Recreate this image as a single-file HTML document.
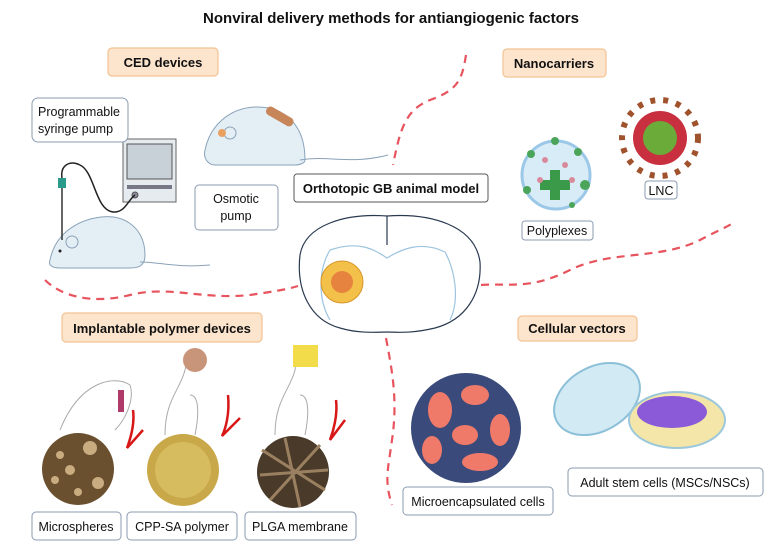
<!DOCTYPE html>
<html><head><meta charset="utf-8"><style>
body{margin:0;background:#fff}
svg{display:block}
text{font-family:"Liberation Sans",Arial,sans-serif}
</style></head><body>
<svg width="782" height="547" viewBox="0 0 782 547" xmlns="http://www.w3.org/2000/svg">
<text x="391" y="23" text-anchor="middle" font-size="15" font-weight="bold" fill="#111">Nonviral delivery methods for antiangiogenic factors</text>

<g fill="none" stroke="#e8545e" stroke-width="2.2" stroke-dasharray="8,6">
<path d="M466,55 C462,80 458,90 430,100 C405,110 400,130 393,165"/>
<path d="M45,280 C60,295 90,305 130,295 C170,285 200,300 250,295 C270,292 285,290 298,286"/>
<path d="M481,285 C510,283 530,290 570,270 C610,250 660,260 700,240 C715,232 725,228 735,222"/>
<path d="M386,338 C392,370 398,400 392,440 C388,470 384,480 392,505"/>
</g>

<g fill="#fde4cc" stroke="#f2c394" stroke-width="1.2">
<rect x="108" y="48" width="110" height="28" rx="4"/>
<rect x="503" y="49" width="103" height="28" rx="4"/>
<rect x="62" y="313" width="200" height="29" rx="4"/>
<rect x="518" y="316" width="119" height="25" rx="4"/>
</g>
<g font-size="13" font-weight="bold" fill="#111" text-anchor="middle">
<text x="163" y="67">CED devices</text>
<text x="554" y="68">Nanocarriers</text>
<text x="162" y="333">Implantable polymer devices</text>
<text x="577" y="333">Cellular vectors</text>
</g>

<!-- syringe pump -->
<rect x="123" y="139" width="53" height="63" fill="#e6ebef" stroke="#666"/>
<rect x="127" y="144" width="45" height="35" fill="#c8d0d8" stroke="#555"/>
<rect x="127" y="185" width="45" height="4" fill="#778"/>
<circle cx="135" cy="195" r="3" fill="#889" stroke="#555"/>

<g fill="#fff" stroke="#8a9bb0" stroke-width="1">
<rect x="32" y="98" width="96" height="44" rx="6"/>
<rect x="195" y="185" width="83" height="45" rx="4"/>
<rect x="294" y="174" width="194" height="28" rx="3" stroke="#555"/>
<rect x="522" y="221" width="71" height="19" rx="3"/>
<rect x="645" y="181" width="32" height="18" rx="3"/>
<rect x="32" y="512" width="89" height="28" rx="4"/>
<rect x="127" y="512" width="110" height="28" rx="4"/>
<rect x="245" y="512" width="111" height="28" rx="4"/>
<rect x="403" y="487" width="150" height="28" rx="4"/>
<rect x="568" y="468" width="195" height="28" rx="4"/>
</g>
<g font-size="12.5" fill="#111">
<text x="38" y="116">Programmable</text>
<text x="38" y="133">syringe pump</text>
<text x="236" y="203" text-anchor="middle">Osmotic</text>
<text x="236" y="220" text-anchor="middle">pump</text>
<text x="391" y="193" text-anchor="middle" font-weight="bold" font-size="13">Orthotopic GB animal model</text>
<text x="557" y="235" text-anchor="middle">Polyplexes</text>
<text x="661" y="195" text-anchor="middle">LNC</text>
<text x="76" y="531" text-anchor="middle">Microspheres</text>
<text x="182" y="531" text-anchor="middle">CPP-SA  polymer</text>
<text x="300" y="531" text-anchor="middle">PLGA membrane</text>
<text x="478" y="506" text-anchor="middle">Microencapsulated cells</text>
<text x="665" y="487" text-anchor="middle">Adult stem cells (MSCs/NSCs)</text>
</g>

<!-- mouse 1 -->
<g fill="#e4eef5" stroke="#8aa2b8" stroke-width="1">
<path d="M50,260 C55,235 75,222 95,218 C120,212 145,225 145,255 C145,265 140,268 130,268 L60,268 C52,268 48,265 50,260Z"/>
<path d="M140,262 C160,262 175,268 210,265" fill="none"/>
<circle cx="72" cy="242" r="6"/>
</g>
<circle cx="60" cy="251" r="1.5" fill="#222"/>
<path d="M62,188 L62,240" stroke="#333" stroke-width="1.5"/>
<rect x="58" y="178" width="8" height="10" fill="#2a9a8a"/>
<path d="M62,178 C60,165 70,160 80,165 C95,172 95,210 113,212 C125,213 128,200 135,195" fill="none" stroke="#222" stroke-width="1.5"/>
<!-- mouse 2 -->
<g fill="#e4eef5" stroke="#8aa2b8" stroke-width="1">
<path d="M205,150 C210,125 230,108 255,107 C285,106 305,125 305,160 C305,163 300,165 295,165 L215,165 C208,165 203,158 205,150Z"/>
<path d="M300,160 C330,155 350,165 388,155" fill="none"/>
<circle cx="230" cy="133" r="6"/>
</g>
<rect x="265" y="112" width="30" height="9" rx="4" fill="#c7865a" transform="rotate(30 280 116)"/>
<circle cx="222" cy="133" r="4" fill="#e9a060"/>

<!-- brain -->
<g fill="#fff" stroke="#2a3a50" stroke-width="1.2">
<path d="M300,255 C305,225 345,213 387,216 C430,213 475,225 480,262 C482,295 465,320 435,328 C410,334 395,332 387,332 C379,332 360,334 340,328 C310,320 296,290 300,255Z"/>
<path d="M387,216 L387,245" fill="none"/>
</g>
<path d="M330,250 C360,240 375,250 387,258 C400,250 420,240 445,252 C455,270 460,300 450,320" fill="none" stroke="#9cc4e0" stroke-width="1.2"/>
<path d="M330,250 C318,270 318,300 330,320" fill="none" stroke="#9cc4e0" stroke-width="1.2"/>
<circle cx="342" cy="282" r="21" fill="#f3c04a" stroke="#d8962a"/>
<circle cx="342" cy="282" r="11" fill="#e06a3a" opacity="0.7"/>

<!-- polyplexes -->
<circle cx="556" cy="175" r="34" fill="#d8ecf8" stroke="#9cc8e8" stroke-width="3"/>
<path d="M550,170 h10 v10 h10 v10 h-10 v10 h-10 v-10 h-10 v-10 h10z" fill="#3a9a4a"/>
<g fill="#4aa55a"><circle cx="531" cy="154" r="4"/><circle cx="578" cy="152" r="4"/><circle cx="585" cy="185" r="5"/><circle cx="527" cy="190" r="4"/><circle cx="572" cy="205" r="3"/><circle cx="555" cy="141" r="4"/></g>
<g fill="#d88a9a"><circle cx="545" cy="160" r="3"/><circle cx="565" cy="165" r="3"/><circle cx="540" cy="180" r="3"/><circle cx="572" cy="180" r="3"/></g>

<!-- LNC -->
<circle cx="660" cy="138" r="38" fill="none" stroke="#a0522d" stroke-width="6" stroke-dasharray="5,8"/>
<circle cx="660" cy="138" r="27" fill="#c83040"/>
<circle cx="660" cy="138" r="17" fill="#6aab3a"/>

<!-- implant hands/arrows -->
<g fill="none" stroke="#aaa" stroke-width="1">
<path d="M60,430 C80,380 115,375 130,385 C135,400 125,420 115,430"/>
<path d="M165,435 C165,400 180,390 185,370 L190,350 M195,435 C200,410 198,395 190,395"/>
<path d="M275,435 C275,400 290,390 295,370 L298,350 M305,435 C310,410 308,395 300,395"/>
</g>
<rect x="118" y="390" width="6" height="22" fill="#b03a6a"/>
<circle cx="195" cy="360" r="12" fill="#c9957a"/>
<rect x="293" y="345" width="25" height="22" fill="#f2dc4a"/>
<g fill="none" stroke="#d81818" stroke-width="2.5">
<path d="M133,410 C135,425 130,440 127,448 L143,430"/>
<path d="M228,395 C230,415 225,430 222,436 L240,418"/>
<path d="M336,400 C338,415 333,432 330,440 L345,420"/>
</g>

<!-- SEM circles -->
<circle cx="78" cy="469" r="36" fill="#6b5030"/>
<g fill="#c9ad80"><circle cx="90" cy="448" r="7"/><circle cx="70" cy="470" r="5"/><circle cx="98" cy="483" r="6"/><circle cx="60" cy="455" r="4"/><circle cx="78" cy="492" r="4"/><circle cx="55" cy="480" r="4"/></g>
<circle cx="183" cy="470" r="36" fill="#c8a848"/>
<circle cx="183" cy="470" r="28" fill="#e0c870" opacity="0.6"/>
<circle cx="293" cy="472" r="36" fill="#4a3a2a"/>
<g stroke="#9a8060" stroke-width="3"><path d="M262,450 L325,490"/><path d="M270,500 L320,445"/><path d="M260,475 L328,470"/><path d="M285,438 L300,507"/></g>

<!-- microencapsulated -->
<circle cx="466" cy="428" r="55" fill="#3a4a7a"/>
<g fill="#f07a6a"><ellipse cx="440" cy="410" rx="12" ry="18"/><ellipse cx="475" cy="395" rx="14" ry="10"/><ellipse cx="465" cy="435" rx="13" ry="10"/><ellipse cx="500" cy="430" rx="10" ry="16"/><ellipse cx="480" cy="462" rx="18" ry="9"/><ellipse cx="432" cy="450" rx="10" ry="14"/></g>

<!-- petri dishes -->
<ellipse cx="597" cy="399" rx="46" ry="32" fill="#d2eaf4" stroke="#8cc0d8" stroke-width="2" transform="rotate(-30 597 399)"/>
<ellipse cx="677" cy="420" rx="48" ry="28" fill="#f4e6a8" stroke="#9cc8dc" stroke-width="2"/>
<ellipse cx="672" cy="412" rx="35" ry="16" fill="#8a5ad8"/>
</svg>
</body></html>
